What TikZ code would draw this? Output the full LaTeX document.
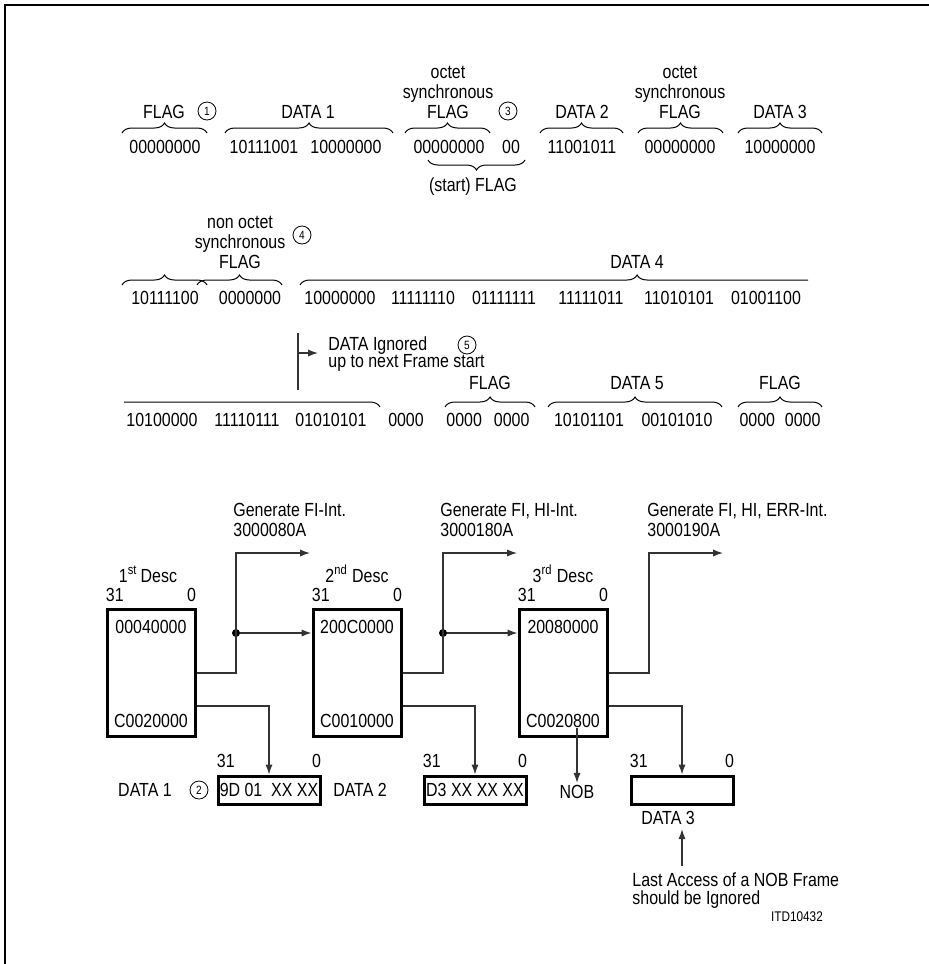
\documentclass[tikz,border=0pt]{standalone}
\usepackage{fontspec}
\setmainfont{Liberation Sans}[FakeStretch=0.84]
\usetikzlibrary{arrows.meta,positioning,calc,decorations.pathreplacing}

\begin{document}
\begin{tikzpicture}[x=0.5pt, y=-0.5pt,
  >={Latex[length=5pt,width=3.6pt]},
  every node/.style={font=\fontsize{9.5}{10}\selectfont, inner sep=0pt},
  lab/.style={anchor=south, align=center},
  num/.style={draw, circle, minimum size=9pt, line width=0.4pt,
              font=\fontsize{6}{6}\selectfont},
  brc/.style={decorate, decoration={brace, amplitude=5pt}, line width=0.5pt},
  desc/.style={draw, line width=1.5pt, minimum width=44pt, minimum height=63.5pt},
  dbox/.style={draw, line width=1.5pt, minimum width=51pt, minimum height=14pt},
  wire/.style={line width=0.6pt, draw=black!80},
  dot/.style={circle, fill, minimum size=4pt}
]
  \useasboundingbox (0,0) rectangle (929,964);
  \draw[line width=1pt] (5,964) -- (5,5) -- (929,5);

  % first bit row
  \foreach \x/\bits [count=\i] in {165/00000000, 264/10111001, 346/10000000,
      449/00000000, 511/00, 582/11001011, 680/00000000, 780/10000000}
    \node (ra\i) at (\x,147) {\bits};
  \foreach \a/\b in {122/207, 225/393, 405/490, 540/623, 638/723, 738/822}
    \draw[brc] (\a,133) -- (\b,133);
  \node[lab] (fl1) at (164,119) {FLAG};
  \node[num] (c1) at (207,111) {1};
  \node[lab] (dt1) at (308,119) {DATA 1};
  \node[lab] (os1) at (448,119) {octet\\synchronous\\FLAG};
  \node[num] (c3) at (508,111) {3};
  \node[lab] (dt2) at (582,119) {DATA 2};
  \node[lab] (os2) at (680,119) {octet\\synchronous\\FLAG};
  \node[lab] (dt3) at (780,119) {DATA 3};
  \draw[brc] (525,160) -- (428,160);
  \node (st) at (473,187) {(start) FLAG};

  % second bit row
  \foreach \x/\bits [count=\i] in {165/10111100, 250/0000000, 340/10000000,
      423/11111110, 504/01111111, 591/11111011, 679/11010101, 766/01001100}
    \node (rb\i) at (\x,298) {\bits};
  \foreach \a/\b in {122/207, 197/282}
    \draw[brc] (\a,285) -- (\b,285);
  \node[lab] (nos) at (240,269) {non octet\\synchronous\\FLAG};
  \node[num] (c4) at (302,235) {4};
  \begin{scope}
    \clip (290,255) rectangle (808,300);
    \draw[brc, decoration={aspect=0.636}] (300,285) -- (830,285);
  \end{scope}
  \node[lab] (dt4) at (637,269) {DATA 4};

  % third bit row
  \foreach \x/\bits [count=\i] in {162/10100000, 247/11110111, 331/01010101,
      406/0000, 488/{0000\hspace{6pt}0000}, 589/10101101, 677/00101010,
      780/{0000\hspace{5pt}0000}}
    \node (rc\i) at (\x,420) {\bits};
  \begin{scope}
    \clip (124,380) rectangle (400,415);
    \draw[brc, decoration={aspect=0.2}] (0,407) -- (380,407);
  \end{scope}
  \foreach \a/\b in {445/535, 548/722, 738/822}
    \draw[brc] (\a,407) -- (\b,407);
  \node[lab] (fl3) at (490,390) {FLAG};
  \node[lab] (dt5) at (637,390) {DATA 5};
  \node[lab] (fl4) at (780,390) {FLAG};

  % ignored data marker
  \draw[wire] (298,333) -- (298,390);
  \coordinate (ig) at (298,353);
  \node[anchor=west, align=left, font=\fontsize{9.5}{8.6}\selectfont] (ign) at (328,354)
       {DATA Ignored\\up to next Frame start};
  \node[num] (c5) at (467,345) {5};
  \draw[wire,->] (ig) -- (ig -| ign.west) [shorten >=5pt];

  % descriptors
  \node[desc] (d1) at (151,673) {};
  \node[desc] (d2) at (357,673) {};
  \node[desc] (d3) at (563,673) {};
  \node[below=6pt of d1.north] (d1hi) {00040000};
  \node[above=5pt of d1.south] (d1lo) {C0020000};
  \node[below=6pt of d2.north] (d2hi) {200C0000};
  \node[above=5pt of d2.south] (d2lo) {C0010000};
  \node[below=6pt of d3.north] (d3hi) {20080000};
  \node[above=5pt of d3.south] (d3lo) {C0020800};
  \node[above=12.5pt of d1.north, xshift=-1.5pt] (t1) {1\textsuperscript{st}\,Desc};
  \node[above=12.5pt of d2.north] (t2) {2\textsuperscript{nd} Desc};
  \node[above=12.5pt of d3.north] (t3) {3\textsuperscript{rd} Desc};

  % data buffers
  \node[dbox] (db1) at (269,790) {9D 01~~XX XX};
  \node[dbox] (db2) at (475,790) {D3 XX XX XX};
  \node[dbox] (db3) at (682,790) {};
  \foreach \b in {d1,d2,d3,db1,db2,db3} {
    \node[above right=3pt and 0pt of \b.north west] (\b-hi) {31};
    \node[above left=3pt and 0pt of \b.north east] (\b-lo) {0};
  }
  \node (dl1) at (145,790) {DATA 1};
  \node[num] (c2) at (199,790) {2};
  \node (dl2) at (360,790) {DATA 2};
  \node (nob) at (577,792) {NOB};
  \node (dl3) at (668,818) {DATA 3};
  \node[anchor=north west, align=left, font=\fontsize{9.5}{9}\selectfont] (note)
       at (632,872) {Last Access of a NOB Frame\\should be Ignored};
  \node[font=\fontsize{7}{8}\selectfont] (itd) at (797,917) {ITD10432};

  % interrupts
  \node[anchor=south west, align=left] (gen1) at (233,537) {Generate FI-Int.\\3000080A};
  \node[anchor=south west, align=left] (gen2) at (440,537) {Generate FI, HI-Int.\\3000180A};
  \node[anchor=south west, align=left] (gen3) at (647,537) {Generate FI, HI, ERR-Int.\\3000190A};
  \coordinate (g1) at (236,553); \coordinate (g1e) at (310,553);
  \coordinate (g2) at (443,553); \coordinate (g2e) at (517,553);
  \coordinate (g3) at (649,553); \coordinate (g3e) at (723,553);
  \node[dot] (j1) at (236,633) {};
  \node[dot] (j2) at (443,633) {};

  % connectors
  \draw[wire,->] (d1.east) -| (g1) -- (g1e);
  \draw[wire,->] (d2.east) -| (g2) -- (g2e);
  \draw[wire,->] (d3.east) -| (g3) -- (g3e);
  \draw[wire,->] (j1) -- (j1 -| d2.west);
  \draw[wire,->] (j2) -- (j2 -| d3.west);
  \draw[wire,->] ([yshift=-16.5pt]d1.east) -| (db1.north);
  \draw[wire,->] ([yshift=-16.5pt]d2.east) -| (db2.north);
  \draw[wire,->] ([yshift=-16.5pt]d3.east) -| (db3.north);
  \draw[wire,->] (nob.north |- d3lo.south) -- (nob.north) [shorten >=1pt];
  \draw[wire,->] ([yshift=3pt]db3.south |- note.north) -- (db3.south |- dl3.south)
       [shorten >=2pt];
\end{tikzpicture}
\end{document}
